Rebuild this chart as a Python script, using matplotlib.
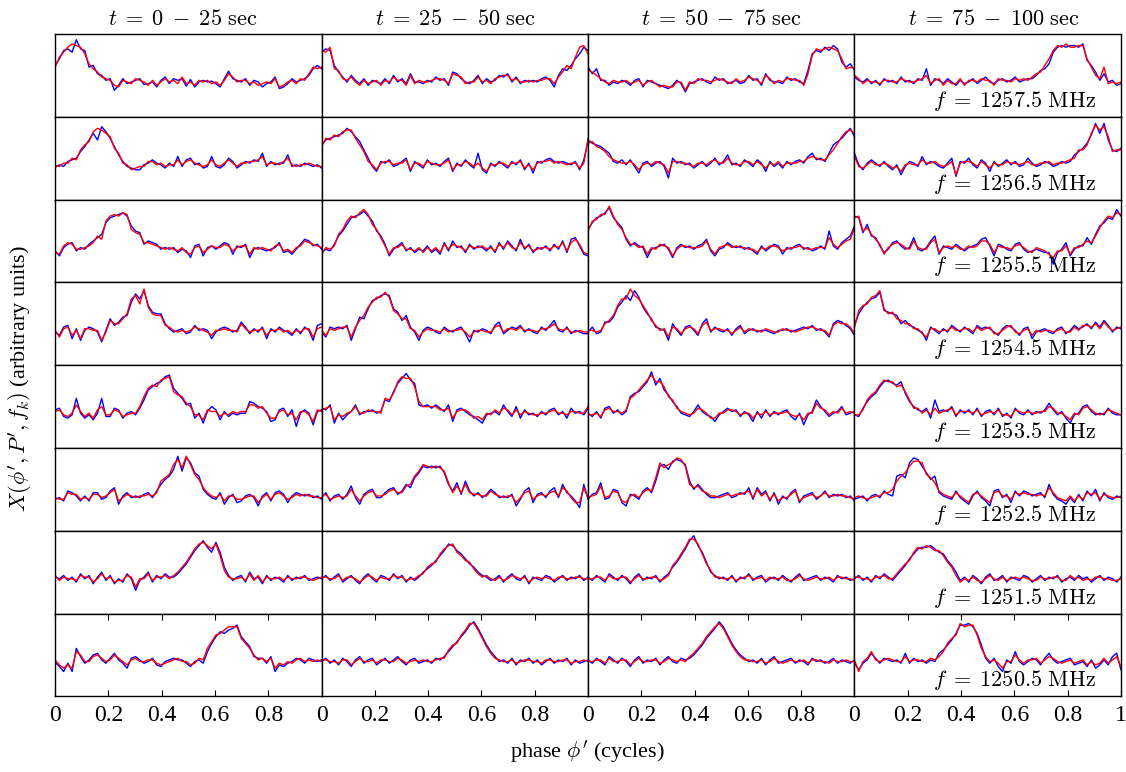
import numpy as np
import matplotlib.pyplot as plt

plt.rcParams['font.family'] = 'Liberation Serif'
plt.rcParams['mathtext.fontset'] = 'cm'

# channel frequencies (rows) and time slices (columns)
freqs = ["1257.5", "1256.5", "1255.5", "1254.5", "1253.5", "1252.5", "1251.5", "1250.5"]
times = ["0 - 25", "25 - 50", "50 - 75", "75 - 100"]

# profiles, arbitrary units (one list per time slice)
blue_1257 = [
    [62,70,80,82,78,93,82,80,60,62,52,50,44,46,32,38,46,40,42,44,46,39,40,42,36,44,48,40,46,44,46,37,45,36,42,44,42,43,40,36,46,55,46,44,42,46,38,44,42,36,40,42,48,34,36,40,46,42,44,46,50,58,62,58],
    [78,82,80,62,54,48,42,50,44,40,46,38,44,42,40,46,40,50,42,46,40,52,42,42,40,44,42,48,44,46,38,54,52,46,42,40,44,50,40,46,42,44,50,48,52,42,48,40,44,42,44,42,46,48,44,36,50,58,56,62,70,76,84,80],
    [60,52,58,44,44,38,42,40,44,42,38,44,46,36,44,42,40,38,36,34,38,44,40,30,40,42,44,46,42,40,48,44,46,40,42,44,40,42,50,44,46,38,52,44,42,42,40,48,44,46,42,40,56,76,80,78,84,80,86,82,66,60,64,56],
    [48,44,42,46,40,44,38,46,42,44,40,48,42,44,40,46,44,58,38,46,44,40,46,42,38,44,40,42,46,40,44,48,42,40,44,46,42,44,48,42,44,46,46,50,56,58,64,78,84,86,84,86,86,84,88,68,62,54,44,52,42,44,38,40],
]
red_1257 = [
    [60,72,78,84,88,86,84,76,64,58,54,48,46,44,38,36,44,42,40,46,44,42,38,44,38,42,46,42,44,40,48,40,42,38,44,42,44,40,42,38,44,52,48,42,44,44,40,42,38,40,42,40,46,36,38,42,44,40,46,44,52,60,58,60],
    [80,78,84,58,56,46,44,48,42,38,44,40,42,44,38,44,42,48,44,44,38,50,40,44,42,42,44,46,46,44,40,52,50,48,40,42,42,48,42,44,40,46,48,50,50,44,46,42,42,44,42,44,44,46,46,40,48,54,62,58,72,84,86,76],
    [56,54,50,46,42,40,44,42,42,44,40,42,44,38,42,44,40,36,38,36,36,42,42,32,42,40,46,44,44,42,44,46,44,42,40,46,42,44,48,46,44,40,50,46,40,44,42,46,46,44,44,38,52,74,82,80,82,84,82,80,70,58,60,58],
    [50,46,40,44,42,42,40,44,44,42,42,46,44,42,42,44,46,50,40,44,46,38,44,40,40,46,38,44,44,42,46,44,44,38,46,44,44,42,46,44,46,44,48,52,54,62,70,80,86,84,88,84,84,86,86,70,60,50,46,60,40,42,40,42],
]

blue_1256 = [
    [39,42,40,46,48,50,58,64,72,80,72,88,82,74,64,54,46,40,38,36,36,42,44,48,44,42,38,44,40,52,40,48,50,42,44,38,40,52,40,38,42,50,46,38,42,46,44,48,46,56,40,46,42,44,44,54,40,42,40,44,42,40,42,38],
    [66,72,74,76,78,80,86,82,76,70,60,50,40,34,46,44,48,40,42,46,50,34,46,42,38,48,42,44,40,46,50,34,44,40,48,42,38,56,36,32,44,40,46,42,38,46,42,48,36,44,32,46,44,48,50,46,44,46,44,42,46,36,48,70],
    [72,68,66,64,60,56,46,44,48,42,48,40,32,44,46,40,44,46,40,26,50,44,46,42,44,38,42,46,40,44,50,42,46,54,42,44,40,48,44,40,48,44,34,46,40,44,38,46,42,46,48,44,52,56,48,50,46,56,66,70,74,80,86,76],
    [56,42,36,44,48,44,40,46,40,36,42,30,40,46,44,40,52,42,46,44,40,38,44,50,28,46,44,50,42,38,48,44,34,46,40,44,48,42,46,40,42,50,44,40,42,46,44,40,42,46,44,46,54,58,62,68,78,92,80,92,72,60,58,62],
]
red_1256 = [
    [41,40,44,44,50,48,60,66,70,82,86,84,80,76,62,56,44,42,36,38,40,40,46,46,42,44,40,42,42,48,42,46,48,44,42,40,42,48,42,40,44,48,44,40,44,44,46,46,48,52,42,44,44,42,46,50,42,40,42,42,44,42,40,40],
    [64,74,72,78,76,82,84,84,74,66,58,46,42,36,44,46,46,42,44,44,48,36,44,44,40,46,44,42,42,44,48,36,42,42,46,44,40,44,38,34,42,42,44,44,40,44,44,46,38,42,36,44,46,46,48,44,46,44,42,44,44,38,44,74],
    [68,70,64,62,58,52,48,46,44,44,46,42,36,42,44,42,46,44,42,32,46,46,44,44,42,40,44,44,42,46,48,44,44,50,44,42,42,46,46,42,46,42,38,44,42,46,40,44,44,44,46,46,50,52,50,48,48,54,60,68,76,82,84,80],
    [52,40,38,42,46,42,42,44,42,38,40,34,42,44,42,42,48,44,44,46,42,40,42,46,30,44,46,46,44,40,46,42,38,44,42,42,46,44,44,42,44,46,42,42,44,44,46,42,44,44,46,48,50,60,60,66,80,90,84,88,76,58,60,60],
]

blue_1255 = [
    [38,32,42,46,48,38,42,40,46,50,54,58,72,78,80,82,84,80,68,62,60,46,50,48,46,40,42,40,42,36,40,38,30,44,46,32,42,44,40,44,48,46,34,44,42,46,30,40,42,40,38,40,42,48,36,38,34,40,46,52,50,44,46,40],
    [36,40,38,46,56,62,70,78,80,82,86,80,74,62,56,46,32,40,44,48,38,42,36,40,38,44,36,40,34,48,38,50,42,44,36,46,40,44,42,38,44,36,48,40,50,44,38,52,40,46,36,42,40,44,38,46,40,50,36,52,54,44,34,32],
    [64,72,78,80,84,90,78,72,66,52,44,48,44,42,30,40,42,44,46,40,30,42,46,42,44,40,44,46,52,38,32,40,42,48,44,42,44,40,42,38,34,44,38,42,46,44,34,42,40,44,46,40,42,38,40,44,40,62,44,40,48,52,56,68],
    [80,78,60,70,56,54,44,36,40,48,50,44,40,42,54,40,38,42,50,56,34,44,42,40,46,42,38,42,44,46,52,54,44,32,46,44,40,38,46,48,40,36,38,40,38,36,36,22,36,40,48,32,40,44,44,54,46,58,68,72,78,76,88,80],
]
red_1255 = [
    [36,34,44,48,46,40,40,42,44,48,56,52,74,80,82,80,84,82,64,60,58,48,48,46,44,42,40,42,40,38,42,36,34,42,44,36,40,44,42,42,46,44,38,42,44,44,34,42,40,42,40,38,44,46,38,40,36,42,44,50,48,46,44,42],
    [34,42,40,44,58,64,74,80,78,84,88,82,70,64,54,44,34,42,42,46,40,40,38,42,36,42,38,42,36,46,40,46,44,42,38,44,42,42,44,40,42,38,46,42,48,42,40,48,42,44,38,40,42,42,40,44,42,48,38,48,52,46,36,34],
    [62,74,76,82,82,92,80,70,64,54,46,46,42,44,34,42,40,46,44,42,32,40,44,44,42,42,42,44,50,40,34,42,44,46,42,44,42,42,40,40,36,42,40,44,44,42,38,40,42,42,44,42,40,40,42,42,42,54,46,42,46,50,52,66],
    [78,80,62,66,58,52,46,34,42,46,48,46,42,40,50,42,40,40,48,52,36,42,44,42,44,40,40,44,42,44,50,50,46,36,44,42,42,40,44,46,42,38,36,42,40,38,34,30,38,38,44,34,42,42,46,50,48,56,66,74,80,78,84,82],
]

blue_1254 = [
    [40,36,46,48,32,44,30,42,46,44,40,28,42,56,48,52,58,60,76,86,80,90,72,64,62,62,50,44,40,42,44,38,40,48,42,44,42,32,40,44,46,44,40,42,52,46,38,44,40,46,32,44,40,46,42,40,36,44,38,46,42,30,48,50],
    [40,34,46,44,46,44,48,30,44,58,56,68,78,80,84,86,84,68,64,54,60,46,40,30,42,46,44,40,38,46,42,40,44,46,38,28,42,40,44,42,38,48,52,38,42,46,44,48,40,44,40,38,46,42,48,54,42,40,46,38,42,40,38,38],
    [40,46,38,40,52,52,58,70,76,84,78,90,82,70,62,56,46,44,42,30,50,42,36,46,48,42,36,50,56,40,46,42,40,44,36,44,48,38,42,44,40,42,42,40,38,42,42,44,40,42,44,46,44,48,42,44,40,34,50,54,52,48,44,36],
    [48,62,70,76,80,82,88,66,64,62,60,50,54,48,46,42,40,30,46,42,38,44,40,48,44,40,46,42,38,48,44,46,44,40,36,44,48,46,42,36,44,46,32,40,42,44,40,38,44,46,38,42,48,44,46,50,44,52,46,54,48,40,46,44],
]
red_1254 = [
    [42,34,44,46,36,42,32,44,44,42,42,30,40,54,50,50,56,62,80,84,74,92,70,62,60,60,48,46,42,40,42,40,42,46,44,42,40,36,42,42,44,42,42,40,50,44,40,42,42,44,36,42,42,44,40,42,38,42,40,44,44,34,44,46],
    [42,36,44,42,44,46,46,34,46,54,60,70,76,82,82,88,82,66,62,56,56,44,42,34,40,44,42,42,40,44,40,42,42,44,40,34,40,42,42,40,40,46,48,40,44,44,42,46,42,42,42,40,44,44,46,50,44,42,44,40,40,42,40,40],
    [42,42,40,42,50,54,60,72,80,80,92,84,80,72,64,54,48,42,44,34,46,44,38,44,46,44,38,48,52,42,44,44,42,42,38,42,46,40,44,42,42,40,44,42,40,40,44,42,42,40,42,44,46,46,44,42,42,36,48,52,50,50,46,38],
    [46,66,72,74,82,84,90,68,62,64,56,54,50,50,44,44,38,34,44,44,40,42,42,46,42,42,44,44,40,46,42,44,46,38,38,42,46,48,40,38,42,44,36,42,40,42,42,40,42,44,40,40,46,42,48,48,46,50,44,52,46,42,44,46],
]

blue_1253 = [
    [46,48,38,36,40,60,42,36,40,34,42,60,38,38,48,46,36,42,44,40,48,58,70,74,78,80,86,88,72,66,60,52,54,36,42,30,44,50,46,34,44,38,42,40,42,42,56,54,50,48,44,32,34,46,48,38,46,26,42,46,42,28,44,46],
    [48,46,52,30,42,34,40,44,52,40,44,44,46,42,44,58,56,68,78,84,90,82,78,52,50,52,48,52,48,44,52,32,46,48,44,40,38,34,30,40,42,44,40,52,44,38,50,36,46,40,42,38,44,40,46,48,40,44,36,48,42,44,40,48],
    [42,38,44,36,48,50,42,46,40,44,62,66,68,74,80,92,76,84,70,64,56,50,42,40,38,44,52,44,40,38,32,40,44,48,44,46,38,44,40,32,44,36,46,38,44,40,44,46,38,34,42,28,40,44,58,50,44,38,42,44,50,40,42,44],
    [40,38,48,56,62,66,74,80,82,78,76,80,66,56,50,46,44,48,36,58,44,46,44,50,38,46,42,46,40,48,38,44,46,40,48,38,42,36,48,42,40,46,40,44,42,46,54,46,40,44,36,30,40,42,50,52,44,40,42,40,48,42,40,40],
]
red_1253 = [
    [44,46,40,38,42,52,44,38,42,36,46,50,40,40,46,44,38,40,42,42,50,62,72,76,74,82,84,86,68,64,62,54,50,40,40,34,46,44,44,38,42,40,44,42,44,44,52,52,48,50,42,36,36,44,46,40,42,34,44,44,40,32,46,44],
    [46,48,50,34,40,38,42,44,50,42,42,46,44,44,42,60,58,66,80,86,84,84,74,56,50,50,50,50,46,46,48,36,44,46,46,42,36,38,34,42,40,46,42,48,46,40,46,40,44,42,40,40,42,42,44,46,42,42,40,44,44,42,42,50],
    [40,40,42,38,46,48,44,44,42,46,60,64,70,76,82,88,80,80,74,62,58,48,44,42,40,42,48,46,42,36,36,42,42,46,46,44,40,42,42,36,42,40,44,40,42,42,42,44,40,38,40,34,42,42,54,48,46,40,44,42,48,42,44,42],
    [40,40,46,58,64,68,76,82,80,80,74,76,68,58,48,48,42,46,40,48,42,44,46,48,40,44,44,44,42,46,40,42,44,42,46,40,40,38,46,44,42,44,42,42,44,44,50,48,42,42,38,34,42,40,48,50,46,42,40,42,46,44,42,40],
]

blue_1252 = [
    [38,40,36,48,46,42,36,42,36,46,46,38,40,48,52,32,42,46,40,42,40,44,46,40,48,56,62,66,74,90,72,88,82,70,66,50,44,40,38,46,32,40,44,34,36,42,44,40,30,42,46,36,46,48,44,34,42,46,44,42,44,40,42,38],
    [40,46,36,42,44,38,44,54,40,32,44,48,50,40,40,46,50,52,44,48,56,52,64,70,78,76,78,76,78,70,56,48,58,44,60,48,42,46,40,44,50,46,40,42,40,44,30,38,48,52,34,44,46,40,48,52,40,56,46,42,36,28,56,38],
    [38,44,46,58,38,40,50,48,34,30,44,42,38,48,52,46,60,78,80,74,84,86,84,80,60,50,56,50,44,40,40,42,44,46,40,42,46,44,52,38,52,44,48,36,46,32,42,38,46,50,34,42,44,46,38,42,48,40,44,42,44,40,42,36],
    [38,40,42,36,42,44,40,48,44,42,66,68,64,82,88,86,78,70,62,66,46,42,40,38,48,40,36,32,42,48,40,36,30,48,50,40,44,34,48,42,48,46,42,44,46,40,56,44,38,36,32,40,34,44,36,48,42,50,36,46,40,38,42,40],
]
red_1252 = [
    [40,38,38,46,44,44,38,40,38,44,44,40,42,46,50,36,40,44,42,40,42,42,44,42,46,60,64,68,80,86,76,90,80,68,62,52,46,42,40,44,36,42,42,38,38,40,42,42,34,40,44,38,44,46,42,38,40,44,42,44,42,42,40,40],
    [42,44,38,40,42,40,42,50,42,36,42,46,48,42,42,44,48,50,46,46,54,56,66,72,80,78,76,78,76,72,58,46,54,46,56,46,44,44,42,42,48,44,42,40,42,42,34,40,46,48,38,42,44,42,46,48,42,52,48,40,34,34,52,40],
    [40,42,44,54,40,42,48,46,36,34,42,44,40,46,50,48,64,82,76,80,82,88,86,78,56,52,54,48,46,42,42,40,42,44,42,44,44,46,48,40,50,42,46,38,44,36,40,40,44,48,36,40,42,44,40,42,46,42,42,44,42,42,40,38],
    [40,42,40,38,40,42,42,46,46,50,60,66,70,78,84,84,82,68,64,58,48,44,42,40,46,42,38,34,44,46,42,38,34,46,48,42,42,38,46,44,46,44,44,42,44,42,52,46,40,38,36,42,36,42,38,46,44,46,38,44,42,40,40,42],
]

blue_1251 = [
    [44,42,46,40,44,38,48,42,46,36,44,50,40,46,36,42,38,48,42,28,40,44,50,38,46,42,48,44,44,48,54,60,68,76,82,88,80,74,86,74,56,46,40,44,46,38,50,42,44,36,46,40,44,42,38,46,40,44,42,46,40,42,44,42],
    [42,46,40,44,48,38,42,46,40,36,44,48,42,38,46,44,40,48,42,46,38,44,40,44,50,54,58,64,70,76,84,82,76,72,66,60,56,50,46,44,40,42,46,38,44,48,42,40,46,36,44,42,40,46,44,38,42,46,40,44,42,46,40,44],
    [44,40,46,42,38,48,44,40,46,42,36,44,48,40,44,42,46,38,44,48,56,62,70,78,88,94,82,74,62,50,46,42,44,40,46,38,44,42,48,40,44,46,38,42,44,40,46,42,38,44,48,40,42,44,46,40,44,42,38,46,42,44,40,42],
    [42,46,40,44,38,46,42,48,44,40,46,52,58,66,72,78,80,80,82,78,74,72,64,58,50,40,44,38,46,42,36,44,48,40,42,46,38,44,42,40,46,44,38,42,46,40,44,42,46,38,42,44,40,46,42,44,38,42,46,40,44,42,38,44],
]
red_1251 = [
    [46,40,44,42,42,40,46,44,44,38,42,48,42,44,38,40,40,46,44,32,42,42,48,40,44,44,46,42,46,50,56,62,70,78,84,86,82,78,84,70,52,44,42,42,44,40,48,40,46,38,44,42,42,44,40,44,42,42,44,44,42,40,42,44],
    [44,44,42,42,46,40,44,44,42,38,42,46,44,40,44,42,42,46,44,44,40,42,42,46,48,56,60,62,72,78,82,84,74,70,64,62,54,48,44,46,42,40,44,40,42,46,44,42,44,38,42,44,42,44,42,40,44,44,42,42,44,44,42,42],
    [42,42,44,44,40,46,42,42,44,44,38,42,46,42,42,44,44,40,42,46,58,64,72,80,90,90,84,72,60,52,44,44,42,42,44,40,42,44,46,42,42,44,40,44,42,42,44,40,40,42,46,42,40,42,44,42,42,44,40,44,44,42,42,40],
    [44,44,42,42,40,44,44,46,42,42,48,54,60,64,74,80,78,82,80,76,76,70,62,56,46,38,42,40,44,40,38,42,46,42,40,44,40,42,44,42,44,42,40,40,44,42,42,44,44,40,40,46,42,44,40,42,40,44,44,42,42,40,40,42],
]

blue_1250 = [
    [41,36,30,40,30,58,48,40,44,50,52,44,40,46,52,44,40,34,46,48,44,40,42,46,38,36,42,44,46,44,44,40,36,42,44,40,54,64,72,78,76,80,82,86,72,66,60,48,46,46,40,48,30,38,36,40,42,46,44,40,46,44,42,44],
    [42,46,40,44,38,46,42,36,44,48,40,44,46,38,42,46,40,44,48,42,38,44,46,40,42,44,40,46,44,48,54,60,66,72,78,86,90,82,72,62,54,48,42,44,40,46,38,44,42,46,40,44,38,42,46,40,44,42,46,38,44,40,42,44],
    [44,40,46,42,38,48,44,40,46,42,36,44,48,40,44,42,46,38,44,48,42,40,46,44,46,50,56,62,70,76,82,90,84,74,64,56,50,46,42,44,40,46,38,44,48,40,42,44,46,40,44,42,38,46,42,44,40,42,46,40,44,42,40,44],
    [40,32,40,44,52,46,40,46,44,42,44,40,52,40,46,42,44,40,44,42,52,56,62,68,76,86,86,88,84,76,62,46,40,46,36,30,44,40,54,42,38,42,46,44,38,46,52,44,40,42,44,46,38,40,42,36,44,34,38,44,38,48,52,32],
]
red_1250 = [
    [44,38,34,38,34,54,50,42,42,48,50,46,42,44,50,46,42,38,44,46,42,42,44,44,40,38,40,42,44,46,42,42,38,40,46,44,58,66,74,76,80,84,84,84,70,64,58,50,44,46,42,46,34,40,38,42,40,44,46,42,44,42,44,42],
    [44,44,42,42,40,44,44,38,42,46,42,42,44,40,44,44,42,42,46,44,40,42,44,42,44,42,42,44,46,46,56,62,64,74,80,88,88,80,70,60,52,46,44,42,42,44,40,42,44,44,42,42,40,44,44,42,42,44,44,40,42,42,44,42],
    [42,42,44,44,40,46,42,42,44,44,38,42,46,42,42,44,44,40,42,46,44,42,44,42,48,52,58,64,72,78,84,88,82,72,62,54,48,44,44,42,42,44,40,42,46,42,40,42,44,42,42,44,40,44,44,42,42,40,44,42,42,44,42,42],
    [44,30,42,46,54,44,42,44,46,44,42,42,48,42,44,44,42,42,46,44,48,54,64,70,74,88,84,86,86,74,58,48,42,44,40,34,42,42,50,44,40,44,44,46,40,44,48,46,42,40,42,44,40,42,44,38,42,38,40,46,40,44,48,36],
]

blue_rows = [blue_1257, blue_1256, blue_1255, blue_1254, blue_1253, blue_1252, blue_1251, blue_1250]
red_rows = [red_1257, red_1256, red_1255, red_1254, red_1253, red_1252, red_1251, red_1250]

fig, axes = plt.subplots(8, 4, figsize=(11.26, 7.72), dpi=100)
fig.subplots_adjust(left=0.049, right=0.9955, top=0.956, bottom=0.098, wspace=0, hspace=0)

for r in range(8):
    for c in range(4):
        ax = axes[r][c]
        b = blue_rows[r][c]
        rd = red_rows[r][c]
        ax.plot(np.linspace(0, 1, len(b)), b, color='#0000ff', lw=1.0)
        ax.plot(np.linspace(0, 1, len(rd)), rd, color='#ff0000', lw=1.0)
        ax.set_xlim(0, 1)
        ax.set_ylim(0, 100)
        ax.set_yticks([])
        for s in ax.spines.values():
            s.set_linewidth(1.0)
        if r == 7:
            ticks = [0, 0.2, 0.4, 0.6, 0.8]
            labels = ['0', '0.2', '0.4', '0.6', '0.8']
            if c == 3:
                ticks.append(1)
                labels.append('1')
            ax.set_xticks(ticks)
            ax.set_xticklabels(labels)
            ax.tick_params(axis='x', direction='in', top=True, length=4, width=0.8,
                           labelsize=17, pad=6)
        else:
            ax.set_xticks([])
        if r == 0:
            # titles sit left-aligned at the same offset in every column
            ax.text(0.2, 1.105, r"$t\;=\;%s\ \mathrm{sec}$" % times[c].replace(" - ", r"\;-\;"),
                    transform=ax.transAxes, ha='left', va='baseline', fontsize=16)
        if c == 3:
            ax.text(0.905, 0.12, r"$f\;=\;%s\ \mathrm{MHz}$" % freqs[r], transform=ax.transAxes,
                    ha='right', va='baseline', fontsize=16)

fig.text(0.522, 0.026, r"phase $\phi'$ (cycles)", ha='center', va='center', fontsize=16)
fig.text(0.018, 0.51, r"$X(\phi', P', f_k)$ (arbitrary units)", rotation=90,
         ha='center', va='center', fontsize=16)

fig.savefig('out.png')
